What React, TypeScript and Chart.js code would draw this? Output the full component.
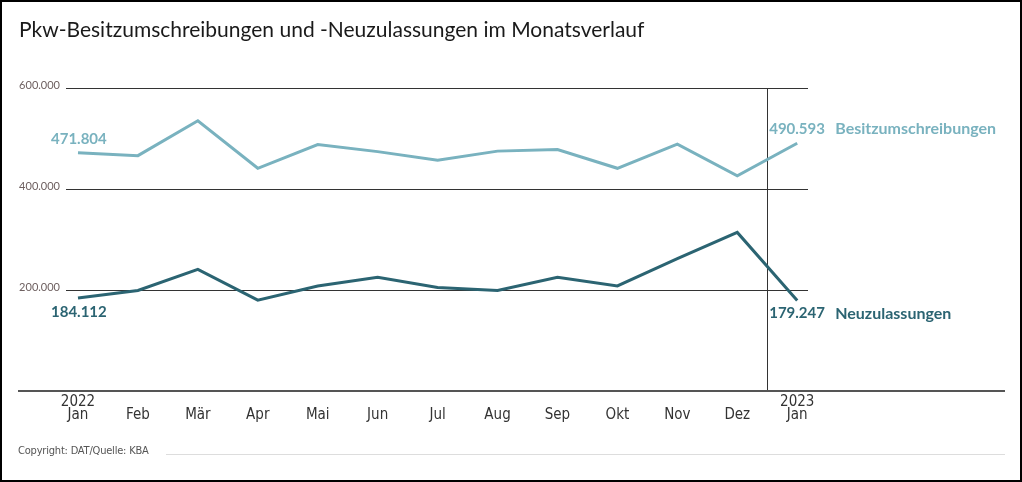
import React, { useEffect, useRef } from "react";
import { Chart, registerables } from "chart.js";

Chart.register(...registerables);

const months = ["Jan", "Feb", "Mär", "Apr", "Mai", "Jun", "Jul", "Aug", "Sep", "Okt", "Nov", "Dez", "Jan"];
const years = ["2022", "", "", "", "", "", "", "", "", "", "", "", "2023"];
const besitz = [471804, 466000, 535000, 441000, 488000, 474000, 457000, 475000, 478000, 441000, 489000, 426000, 490593];
const neu = [184112, 199000, 241000, 180000, 208000, 225000, 205000, 199000, 225000, 208000, 262000, 314000, 179247];
const yTicks = [0, 200000, 400000, 600000];
const seriesNames = ["Besitzumschreibungen", "Neuzulassungen"];
const colors = ["#79b2bf", "#2b6472"];
const dividerAt = 11.5;

const fmt = (n: number) => String(Math.round(n)).replace(/\B(?=(\d{3})+(?!\d))/g, ".");

const overlay = {
  id: "overlay",
  beforeDatasetsDraw(chart: any) {
    const { ctx } = chart;
    const xs = chart.scales.x;
    const ys = chart.scales.y;
    const y0 = ys.getPixelForValue(0);
    const yTop = ys.getPixelForValue(600000);
    ctx.save();
    ctx.strokeStyle = "#333";
    ctx.lineWidth = 1;
    const xv = Math.round(xs.getPixelForValue(dividerAt)) + 0.5;
    ctx.beginPath();
    ctx.moveTo(xv, yTop);
    ctx.lineTo(xv, y0);
    ctx.stroke();
    ctx.strokeStyle = "#555";
    ctx.lineWidth = 2;
    ctx.beginPath();
    ctx.moveTo(18, y0);
    ctx.lineTo(1005, y0);
    ctx.stroke();
    ctx.restore();
  },
  afterDatasetsDraw(chart: any) {
    const { ctx } = chart;
    const xs = chart.scales.x;
    const ys = chart.scales.y;
    const last = months.length - 1;
    ctx.save();
    ctx.textBaseline = "middle";
    ctx.textAlign = "left";
    const series = [besitz, neu];
    const offs = [-14, 13];
    series.forEach((arr, i) => {
      ctx.fillStyle = colors[i];
      ctx.font = "bold 15px Lato, 'Noto Sans', sans-serif";
      const x0 = xs.getPixelForValue(0);
      const y0 = ys.getPixelForValue(arr[0]);
      ctx.fillText(fmt(arr[0]), x0 - 27, y0 + offs[i] + (i === 1 ? 1 : 0));
      const xl = xs.getPixelForValue(last);
      const yl = ys.getPixelForValue(arr[last]);
      ctx.fillText(fmt(arr[last]), xl - 28, yl + offs[i]);
      ctx.font = "bold 16px Lato, 'Noto Sans', sans-serif";
      ctx.fillText(seriesNames[i], xl + 38, yl + offs[i]);
    });
    ctx.restore();
  },
};

export default function App() {
  const ref = useRef<HTMLCanvasElement>(null);
  useEffect(() => {
    document.body.style.margin = "0";
    const chart = new Chart(ref.current!, {
      type: "line",
      data: {
        datasets: [
          {
            label: seriesNames[0],
            data: besitz.map((v, i) => ({ x: i, y: v })),
            borderColor: colors[0],
            borderWidth: 3,
            pointRadius: 0,
            tension: 0,
          },
          {
            label: seriesNames[1],
            data: neu.map((v, i) => ({ x: i, y: v })),
            borderColor: colors[1],
            borderWidth: 3,
            pointRadius: 0,
            tension: 0,
          },
        ],
      },
      options: {
        animation: false,
        responsive: false,
        events: [],
        layout: { padding: { left: 18, right: 214, top: 88, bottom: 51 } },
        plugins: { legend: { display: false }, tooltip: { enabled: false } },
        scales: {
          x: {
            type: "linear",
            min: -0.2,
            max: 12.18,
            afterBuildTicks: (s: any) => {
              s.ticks = months.map((_, i) => ({ value: i }));
            },
            afterFit: (s: any) => {
              s.height = 40;
            },
            grid: { display: false, drawTicks: false },
            border: { display: false },
            ticks: {
              autoSkip: false,
              maxRotation: 0,
              padding: 4,
              color: "#333",
              font: { family: "'Liberation Sans Narrow', 'DejaVu Sans Condensed', sans-serif", size: 15, lineHeight: 0.9 },
              callback: (v: any) => {
                const i = Math.round(Number(v));
                return [years[i], months[i]];
              },
            },
          },
          y: {
            min: 0,
            max: 600000,
            afterBuildTicks: (s: any) => {
              s.ticks = yTicks.map((v) => ({ value: v }));
            },
            afterFit: (s: any) => {
              s.width = 48;
            },
            grid: {
              drawTicks: false,
              color: (c: any) => (c.tick && c.tick.value === 0 ? "rgba(0,0,0,0)" : "#333"),
              lineWidth: 1,
            },
            border: { display: false },
            ticks: {
              padding: 6,
              labelOffset: -3,
              color: "#6e6060",
              font: { family: "Lato, sans-serif", size: 11 },
              callback: (v: any) => (Number(v) === 0 ? "" : fmt(Number(v))),
            },
          },
        },
      },
      plugins: [overlay],
    });
    return () => chart.destroy();
  }, []);

  return (
    <div style={{ position: "absolute", left: 0, top: 0, width: 1022, height: 482, background: "#fff", overflow: "hidden" }}>
      <canvas ref={ref} width={1022} height={482} style={{ position: "absolute", left: 0, top: 0, width: 1022, height: 482 }} />
      <div
        style={{
          position: "absolute",
          left: 19,
          top: 15,
          fontFamily: "Lato, 'Noto Sans', sans-serif",
          fontSize: 21,
          color: "#1a1a1a",
          whiteSpace: "nowrap",
          lineHeight: "28px",
        }}
      >
        Pkw-Besitzumschreibungen und -Neuzulassungen im Monatsverlauf
      </div>
      <div
        style={{
          position: "absolute",
          left: 18,
          top: 444,
          fontFamily: "'Liberation Sans Narrow', 'DejaVu Sans Condensed', sans-serif",
          fontSize: 11,
          color: "#555",
          whiteSpace: "nowrap",
          lineHeight: "14px",
          letterSpacing: -0.2,
        }}
      >
        Copyright: DAT/Quelle: KBA
      </div>
      <div style={{ position: "absolute", left: 166, top: 454, width: 839, height: 1, background: "#ddd" }} />
      <div
        style={{
          position: "absolute",
          inset: 0,
          border: "2px solid #000",
          boxSizing: "border-box",
          pointerEvents: "none",
        }}
      />
    </div>
  );
}
